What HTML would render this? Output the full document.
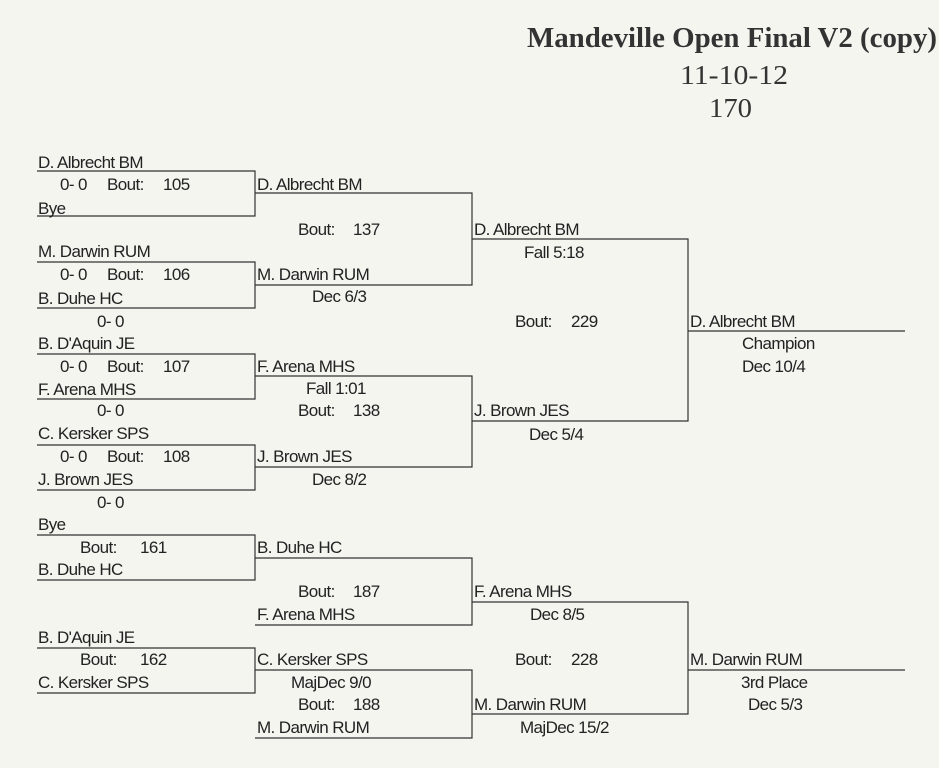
<!DOCTYPE html>
<html><head><meta charset="utf-8"><style>
html,body{margin:0;padding:0;background:#f4f5ef;}
svg{display:block}
text{font-family:"Liberation Sans",Arial,sans-serif;font-size:17px;letter-spacing:-0.6px;fill:#222;}
.t{font-family:"Liberation Serif",serif;fill:#333;letter-spacing:0;}
</style></head><body>
<svg width="939" height="768" viewBox="0 0 939 768" xmlns="http://www.w3.org/2000/svg">
<rect width="939" height="768" fill="#f4f5ef"/>
<text class="t" x="527" y="47" textLength="410" lengthAdjust="spacingAndGlyphs" style="font-size:28px;font-weight:bold">Mandeville Open Final V2 (copy)</text>
<text class="t" x="680" y="84" textLength="108" lengthAdjust="spacingAndGlyphs" style="font-size:27px">11-10-12</text>
<text class="t" x="709" y="117" textLength="43" lengthAdjust="spacingAndGlyphs" style="font-size:27px">170</text>
<g stroke="#333" stroke-width="1.2" fill="none">
<path d="M37 171H255V216H37"/>
<path d="M37 262H255V308H37"/>
<path d="M37 354H255V399H37"/>
<path d="M37 445H255V490H37"/>
<path d="M255 193H472V285H255"/>
<path d="M255 376H472V467H255"/>
<path d="M472 239H688V421H472"/>
<path d="M688 331H905"/>
<path d="M37 535H255V580H37"/>
<path d="M37 648H255V693H37"/>
<path d="M255 558H472V625H255"/>
<path d="M255 670H472V738H255"/>
<path d="M472 602H688V714H472"/>
<path d="M688 670H905"/>
</g>
<g>
<text x="38" y="168">D. Albrecht BM</text>
<text x="60" y="190">0- 0</text><text x="107" y="190">Bout:</text><text x="163" y="190">105</text>
<text x="38" y="214">Bye</text>
<text x="38" y="257">M. Darwin RUM</text>
<text x="60" y="280">0- 0</text><text x="107" y="280">Bout:</text><text x="163" y="280">106</text>
<text x="38" y="304">B. Duhe HC</text>
<text x="97" y="327">0- 0</text>
<text x="38" y="349">B. D'Aquin JE</text>
<text x="60" y="372">0- 0</text><text x="107" y="372">Bout:</text><text x="163" y="372">107</text>
<text x="38" y="395">F. Arena MHS</text>
<text x="97" y="416">0- 0</text>
<text x="38" y="439">C. Kersker SPS</text>
<text x="60" y="462">0- 0</text><text x="107" y="462">Bout:</text><text x="163" y="462">108</text>
<text x="38" y="485">J. Brown JES</text>
<text x="97" y="508">0- 0</text>

<text x="257" y="190">D. Albrecht BM</text>
<text x="298" y="235">Bout:</text><text x="353" y="235">137</text>
<text x="257" y="280">M. Darwin RUM</text>
<text x="312" y="302">Dec 6/3</text>
<text x="257" y="372">F. Arena MHS</text>
<text x="306" y="394">Fall 1:01</text>
<text x="298" y="416">Bout:</text><text x="353" y="416">138</text>
<text x="257" y="462">J. Brown JES</text>
<text x="312" y="485">Dec 8/2</text>

<text x="474" y="235">D. Albrecht BM</text>
<text x="524" y="258">Fall 5:18</text>
<text x="515" y="327">Bout:</text><text x="571" y="327">229</text>
<text x="474" y="416">J. Brown JES</text>
<text x="529" y="440">Dec 5/4</text>

<text x="690" y="327">D. Albrecht BM</text>
<text x="742" y="349">Champion</text>
<text x="742" y="372">Dec 10/4</text>

<text x="38" y="530">Bye</text>
<text x="80" y="553">Bout:</text><text x="140" y="553">161</text>
<text x="38" y="575">B. Duhe HC</text>
<text x="38" y="643">B. D'Aquin JE</text>
<text x="80" y="665">Bout:</text><text x="140" y="665">162</text>
<text x="38" y="688">C. Kersker SPS</text>

<text x="257" y="553">B. Duhe HC</text>
<text x="298" y="597">Bout:</text><text x="353" y="597">187</text>
<text x="257" y="620">F. Arena MHS</text>
<text x="257" y="665">C. Kersker SPS</text>
<text x="291" y="688">MajDec 9/0</text>
<text x="298" y="710">Bout:</text><text x="353" y="710">188</text>
<text x="257" y="733">M. Darwin RUM</text>

<text x="474" y="597">F. Arena MHS</text>
<text x="530" y="620">Dec 8/5</text>
<text x="515" y="665">Bout:</text><text x="571" y="665">228</text>
<text x="474" y="710">M. Darwin RUM</text>
<text x="520" y="733">MajDec 15/2</text>

<text x="690" y="665">M. Darwin RUM</text>
<text x="741" y="688">3rd Place</text>
<text x="748" y="710">Dec 5/3</text>
</g>
</svg>
</body></html>
